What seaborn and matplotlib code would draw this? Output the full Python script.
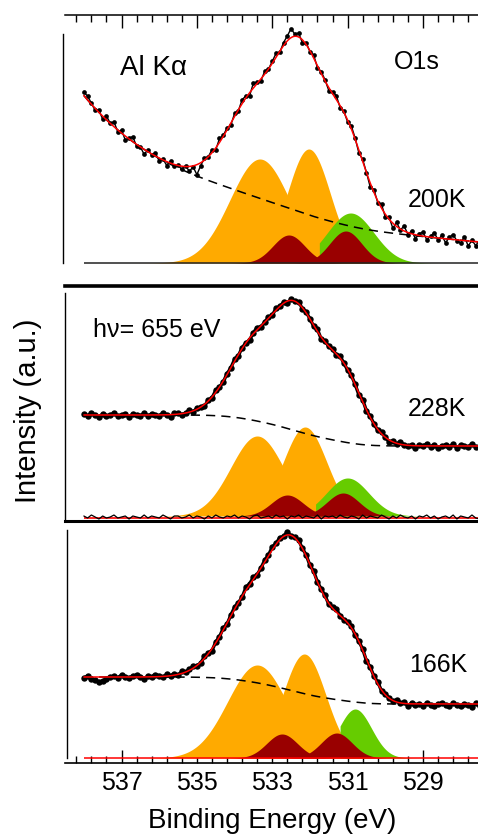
import numpy as np
import matplotlib
matplotlib.use("Agg")
import matplotlib.pyplot as plt
from matplotlib.ticker import MultipleLocator
import seaborn as sns

sns.set_theme(style="white")
plt.rcParams["font.family"] = ["Liberation Sans", "DejaVu Sans"]
plt.rcParams["text.color"] = "black"
plt.rcParams["xtick.color"] = "black"
plt.rcParams["axes.labelcolor"] = "black"

# scan range (binding energy, eV)
E_START, E_END = 538.0, 527.5

temps = ["200K", "228K", "166K"]

# fitted components per panel: centre (eV), height (a.u.), FWHM (eV)
orange_center = [[533.33, 532.03], [533.40, 532.13], [533.40, 532.15]]
orange_height = [[104, 114], [80, 89], [93, 104]]
orange_fwhm = [[1.87, 1.35], [1.65, 1.36], [1.85, 1.35]]

darkred_center = [[532.56, 531.05], [532.60, 531.12], [532.74, 531.29]]
darkred_height = [[28, 32], [21, 23], [24, 25]]
darkred_fwhm = [[1.0, 1.0], [1.0, 1.0], [0.96, 0.96]]

green_center = [530.92, 531.0, 530.8]
green_height = [50, 38, 49]
green_fwhm = [1.45, 1.32, 1.02]
green_from = [531.75, 531.85, 531.2]

# background: level at low-BE end, Shirley step, linear slope, tail amplitude / decay
bg_level = [20, 70, 54]
bg_step = [18, 31, 27]
bg_slope = [3, 0, 0]
bg_tail_amp = [98, 0, 0]
bg_tail_tau = [2.3, 1.0, 1.0]

# data minus fit, one value per 0.1 eV from 538.0 to 527.5
resid_200 = [3, 4, 1, -2, 2, -3, 4, 0, 5, -2,
             3, -4, 1, 5, -2, 0, -5, 2, -1, 3,
             -3, 1, -4, 2, -2, 0, -3, 1, -5, -1,
             -10, -3, 2, 0, 3, -2, 4, 1, 2, -2,
             3, -1, 4, 2, -3, 5, 1, -2, 3, 0,
             2, 4, -1, 3, 5, 9, 2, 4, -3, 2,
             -1, 3, -2, 2, 1, -3, 2, 4, -2, 1,
             -2, 3, 1, -3, 2, 0, -4, 3, -2, 4,
             -3, 2, -5, 4, -1, 5, -2, 3, -4, 2,
             4, -3, 1, 5, -2, 3, -4, 2, 5, -1,
             -3, 4, -5, 1, -4, 2]
resid_228 = [1, -1, 2, 0, -2, 1, -1, 0, 2, -1,
             0, 1, -2, 1, 0, -1, 2, -1, 1, 0,
             -1, 2, 0, -2, 1, 1, -1, 0, 2, -1,
             1, 0, -2, 1, -1, 2, 0, -1, 1, 0,
             2, -1, 1, 0, -2, 1, 2, -1, 0, 1,
             -1, 2, 0, 1, -2, 1, 0, 2, -1, 1,
             0, -1, 2, -2, 1, 0, 1, -1, 2, 0,
             -1, 1, 0, -2, 2, -1, 1, 0, -1, 2,
             0, -2, 1, -1, 2, 0, -1, 1, -2, 1,
             0, 2, -1, 1, -2, 0, 1, -1, 2, -2,
             1, 0, -1, 2, -1, -2]
resid_166 = [-1, 1, -2, -3, -5, -4, -2, 0, 1, -1,
             2, 0, -1, 1, 2, 0, -2, 1, 0, 2,
             1, -1, 2, 0, 1, -1, 2, 0, 1, 2,
             0, -1, 2, 1, -2, 1, 0, 2, -1, 1,
             2, 0, -1, 3, 1, 2, -1, 0, 2, 1,
             3, 1, 2, 0, 3, -1, 1, 2, 0, 1,
             -1, 2, 0, 1, 2, -1, 1, 3, 0, -1,
             1, 2, -1, 0, 1, -2, 1, 0, 2, -1,
             1, 0, -1, 2, 0, 1, -2, 1, -1, 0,
             -2, 1, -1, -2, 0, 1, -1, -2, 1, -1,
             -2, 0, -1, -3, 1, -2]
residuals = [resid_200, resid_228, resid_166]

major_ticks = [537, 535, 533, 531, 529]

ORANGE = "#FFAA00"
DARKRED = "#990000"
GREEN = "#66CC00"


def gauss(x, c, h, w):
    return h * np.exp(-4 * np.log(2) * ((x - c) / w) ** 2)


e_fine = np.linspace(E_START, E_END, 1051)
e_data = e_fine[::10]

W, H = 478, 834
fig = plt.figure(figsize=(W / 100, H / 100), dpi=100)

# (top px, bottom px, baseline px, left spine top px, left spine bottom px)
layout = [(15, 265, 263, 34, 263), (286, 521, 516, 293, 520), (521, 763, 758, 530, 758)]
axes = []
for i, (top, bot, base, sp_top, sp_bot) in enumerate(layout):
    ax = fig.add_axes([65 / W, 1 - bot / H, (W - 65) / W, (bot - top) / H])
    ax.set_xlim(538.5, 527.54)
    ax.set_ylim(base - bot, base - top)
    ax.set_facecolor("none")

    oranges = [gauss(e_fine, c, h, w) for c, h, w in
               zip(orange_center[i], orange_height[i], orange_fwhm[i])]
    reds = [gauss(e_fine, c, h, w) for c, h, w in
            zip(darkred_center[i], darkred_height[i], darkred_fwhm[i])]
    green = gauss(e_fine, green_center[i], green_height[i], green_fwhm[i])
    peaks = sum(oranges) + sum(reds) + green

    shirley = np.cumsum(peaks[::-1])[::-1] / peaks.sum()
    bg = (bg_level[i] + bg_slope[i] * (e_fine - E_END) + bg_step[i] * shirley
          + bg_tail_amp[i] * np.exp((e_fine - E_START) / bg_tail_tau[i]))
    fit = bg + peaks
    data = fit[::10] + np.array(residuals[i])

    for o in oranges:
        ax.fill_between(e_fine, 0, o, color=ORANGE, lw=0, zorder=1)
    ax.fill_between(e_fine, 0, green, where=e_fine <= green_from[i],
                    color=GREEN, lw=0, zorder=2)
    for r in reds:
        ax.fill_between(e_fine, 0, r, color=DARKRED, lw=0, zorder=3)

    ax.plot(e_fine, bg, color="black", lw=1.1, ls=(0, (6, 4)), zorder=4)
    ms, lw = (3.4, 1.0) if i == 0 else (4.6, 2.4)
    sns.lineplot(x=e_data, y=data, ax=ax, color="black", lw=lw, marker="o",
                 markersize=ms, markeredgewidth=0, zorder=5)
    sns.lineplot(x=e_fine, y=fit, ax=ax, color="red", lw=1.1, zorder=6)

    for s in ax.spines.values():
        s.set_color("black")
    ax.spines["right"].set_visible(False)
    ax.spines["left"].set_linewidth(1.0)
    ax.spines["left"].set_bounds(base - sp_bot, base - sp_top)
    ax.tick_params(left=False, labelleft=False, bottom=False, top=False,
                   labelbottom=False, labeltop=False)
    ax.set_xlabel("")
    ax.set_ylabel("")
    axes.append(ax)

ax1, ax2, ax3 = axes

# panel 1: ticked top axis, plain baseline
ax1.spines["bottom"].set_visible(False)
ax1.spines["top"].set_linewidth(1.1)
ax1.hlines(0, E_START, E_END, color="#222222", lw=1.1, zorder=3.5)
ax1.spines["left"].set_position(("axes", -0.005))
for ax in (ax1, ax3):
    ax.xaxis.set_major_locator(MultipleLocator(2, offset=1))
    ax.xaxis.set_minor_locator(MultipleLocator(0.4, offset=0.2))
ax1.tick_params(axis="x", which="both", top=True, bottom=False, direction="in",
                width=1.0, color="black")
ax1.tick_params(axis="x", which="major", length=9.5)
ax1.tick_params(axis="x", which="minor", length=5)

# panel 2: heavy frame and residual trace
ax2.spines["top"].set_linewidth(2.6)
ax2.spines["bottom"].set_linewidth(2.2)
ax2.hlines(-1.5, E_START, E_END, color="red", lw=1.2, zorder=5)
sns.lineplot(x=e_data, y=np.array(resid_228) - 1.0, ax=ax2, color="black",
             lw=0.9, zorder=6)

# panel 3: labelled bottom axis
ax3.spines["top"].set_linewidth(1.2)
ax3.spines["bottom"].set_linewidth(1.2)
ax3.spines["left"].set_position(("axes", 0.005))
ax3.hlines(0, E_START, E_END, color="red", lw=1.1, zorder=3.5)
ax3.set_xticks(major_ticks)
ax3.set_xticklabels([str(t) for t in major_ticks], fontsize=18)
ax3.tick_params(axis="x", which="both", bottom=True, labelbottom=True,
                direction="in", width=1.0, color="black", pad=5.5)
ax3.tick_params(axis="x", which="major", length=9.5)
ax3.tick_params(axis="x", which="minor", length=5)

# annotations
ax1.text(536.14, 195, "Al K\u03b1", fontsize=20, ha="center", va="center")
ax1.text(529.16, 201, "O1s", fontsize=18, ha="center", va="center")
ax1.text(528.63, 63, temps[0], fontsize=18, ha="center", va="center")
ax2.text(536.06, 186, "h\u03bd= 655 eV", fontsize=18, ha="center", va="center")
ax2.text(528.63, 107, temps[1], fontsize=18, ha="center", va="center")
ax3.text(528.60, 93, temps[2], fontsize=18, ha="center", va="center")

fig.text(28 / W, 1 - 411 / H, "Intensity (a.u.)", rotation=90, fontsize=21,
         ha="center", va="center")
fig.text(272 / W, 1 - 828 / H, "Binding Energy (eV)", fontsize=20,
         ha="center", va="baseline")

fig.savefig("out.png", dpi=100)
